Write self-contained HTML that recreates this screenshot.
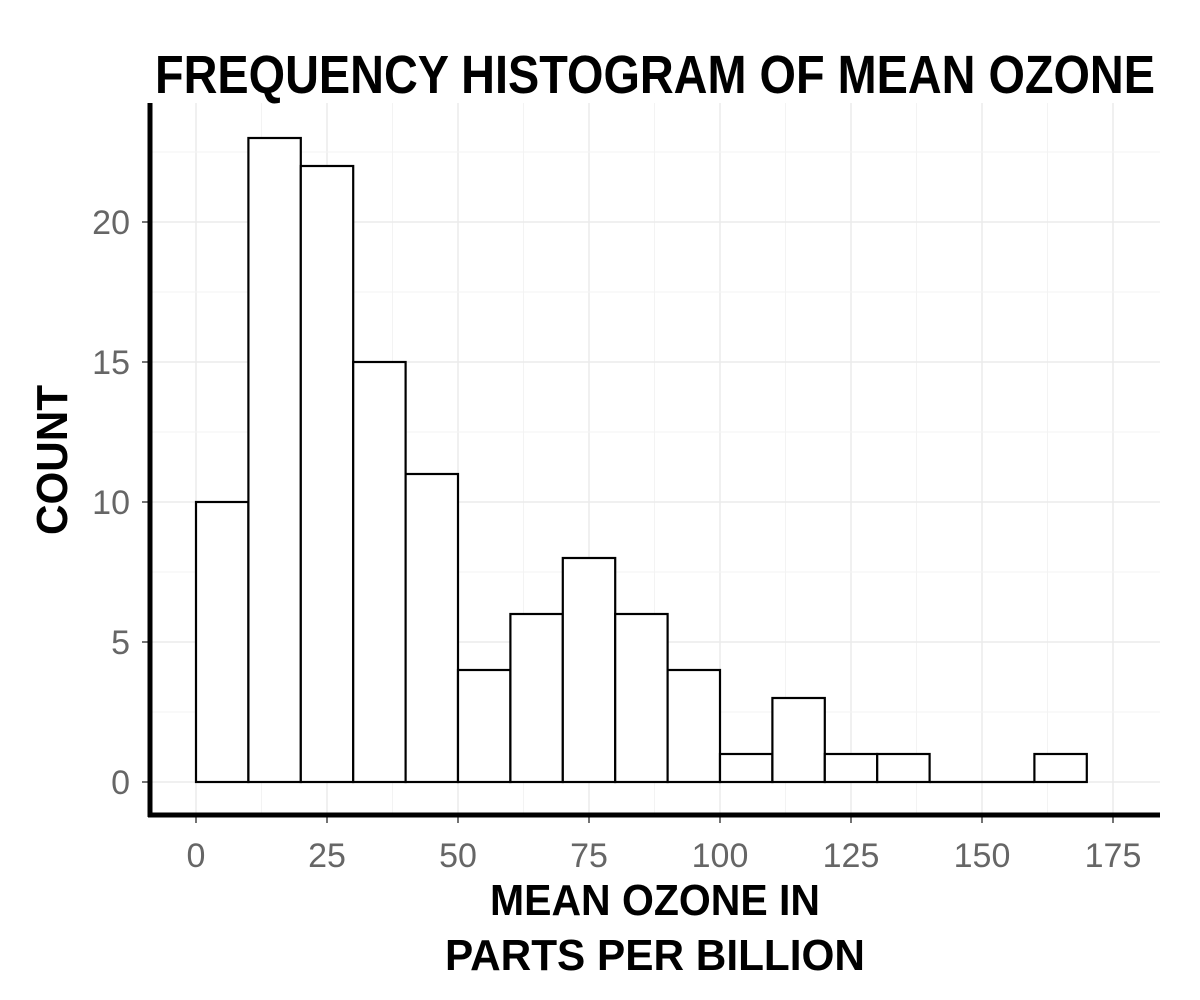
<!DOCTYPE html>
<html><head><meta charset="utf-8"><style>body{margin:0;background:#fff}svg{display:block}</style></head>
<body>
<svg id="chart" width="1200" height="1000" xmlns="http://www.w3.org/2000/svg" font-family="'Liberation Sans', sans-serif">
<text x="655" y="93" font-size="54" font-weight="bold" text-anchor="middle" textLength="1000" lengthAdjust="spacingAndGlyphs">FREQUENCY HISTOGRAM OF MEAN OZONE</text>
<g id="grid"></g><g id="bars"></g><g id="axes"></g>
<text x="655" y="915" font-size="44" font-weight="bold" text-anchor="middle" textLength="330" lengthAdjust="spacingAndGlyphs">MEAN OZONE IN</text>
<text x="655" y="970" font-size="44" font-weight="bold" text-anchor="middle" textLength="420" lengthAdjust="spacingAndGlyphs">PARTS PER BILLION</text>
<text transform="translate(67,460) rotate(-90)" font-size="44" font-weight="bold" text-anchor="middle" textLength="150" lengthAdjust="spacingAndGlyphs">COUNT</text>
</svg>
<script>
const binStarts=[0,10,20,30,40,50,60,70,80,90,100,110,120,130,140,150,160];
const counts=[10,23,22,15,11,4,6,8,6,4,1,3,1,1,0,0,1];
const binWidth=10;
const xTicks=[0,25,50,75,100,125,150,175];
const yTicks=[0,5,10,15,20];
const NS='http://www.w3.org/2000/svg';
const sx=v=>196+v*5.24, sy=v=>782-v*28;
const L=150,R=1160,T=103,B=815;
function mk(tag,attrs,parent){const e=document.createElementNS(NS,tag);for(const k in attrs)e.setAttribute(k,attrs[k]);parent.appendChild(e);return e;}
const grid=document.getElementById('grid'),bars=document.getElementById('bars'),axes=document.getElementById('axes');
for(let i=0;i<xTicks.length;i++){
 const g=mk('line',{x1:sx(xTicks[i]),x2:sx(xTicks[i]),y1:T,y2:B,stroke:'#ebebeb','stroke-width':1.5},grid);
 
 
 if(i<xTicks.length-1){const m=(xTicks[i]+xTicks[i+1])/2;
  const mg=mk('line',{x1:sx(m),x2:sx(m),y1:T,y2:B,stroke:'#f3f3f3','stroke-width':1},grid);
  
  }
 const t=mk('line',{x1:sx(xTicks[i]),x2:sx(xTicks[i]),y1:B,y2:B+8,stroke:'#444','stroke-width':1.5},axes);
 
 
 const lb=mk('text',{x:sx(xTicks[i]),y:867,'font-size':34,fill:'#666','text-anchor':'middle'},axes);lb.textContent=xTicks[i];
 
 
}
for(let i=0;i<yTicks.length;i++){
 const g=mk('line',{x1:L,x2:R,y1:sy(yTicks[i]),y2:sy(yTicks[i]),stroke:'#ebebeb','stroke-width':1.5},grid);
 
 
 const m=yTicks[i]+2.5;
 const mg=mk('line',{x1:L,x2:R,y1:sy(m),y2:sy(m),stroke:'#f3f3f3','stroke-width':1},grid);
 
 
 const t=mk('line',{x1:L-8,x2:L,y1:sy(yTicks[i]),y2:sy(yTicks[i]),stroke:'#444','stroke-width':1.5},axes);
 
 
 const lb=mk('text',{x:130,y:sy(yTicks[i])+12,'font-size':34,fill:'#666','text-anchor':'end'},axes);lb.textContent=yTicks[i];
 
 
}
for(let i=0;i<counts.length;i++){
 const x0=sx(binStarts[i]),x1=sx(binStarts[i]+binWidth);
 if(counts[i]===0){
  const z=mk('line',{x1:x0,x2:x1,y1:sy(0),y2:sy(0),stroke:'#000','stroke-width':2.2},bars);
  
  
  continue;
 }
 const r=mk('rect',{x:x0,y:sy(counts[i]),width:x1-x0,height:sy(0)-sy(counts[i]),fill:'#fff',stroke:'#000','stroke-width':2.2},bars);
 
 
}
const ax=mk('line',{x1:L,x2:L,y1:T,y2:B+2,stroke:'#000','stroke-width':5},axes);


const bx=mk('line',{x1:L-2,x2:R,y1:B,y2:B,stroke:'#000','stroke-width':5},axes);


</script>
</body></html>
